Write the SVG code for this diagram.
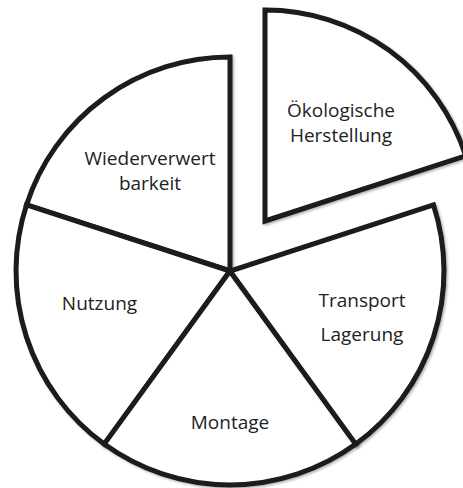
<svg xmlns="http://www.w3.org/2000/svg" width="463" height="488" viewBox="0 0 463 488">
<defs>
<filter id="sh" x="-10%" y="-10%" width="120%" height="120%">
<feDropShadow dx="1.5" dy="1.5" stdDeviation="1.2" flood-color="#000" flood-opacity="0.3"/>
</filter>
</defs>
<style>
.s{fill:#fff;stroke:#1a1a1a;stroke-width:5;stroke-linejoin:miter;filter:url(#sh)}
.t{font-family:"Open Sans","Liberation Sans",sans-serif;font-size:19px;fill:#222;text-anchor:middle}
</style>
<rect width="463" height="488" fill="#fff"/>
<g id="wiederverwertbarkeit">
<path class="s" d="M230,271 L230,57 A214,214 0 0 0 26.5,204.9 Z"/>
<text class="t" x="150" y="164.5">Wiederverwert</text>
<text class="t" x="150" y="190">barkeit</text>
</g>
<g id="nutzung">
<path class="s" d="M230,271 L26.5,204.9 A214,214 0 0 0 104.2,444.1 Z"/>
<text class="t" x="99.5" y="310">Nutzung</text>
</g>
<g id="montage">
<path class="s" d="M230,271 L104.2,444.1 A214,214 0 0 0 355.8,444.1 Z"/>
<text class="t" x="230" y="429">Montage</text>
</g>
<g id="transport">
<path class="s" d="M230,271 L355.8,444.1 A214,214 0 0 0 433.5,204.9 Z"/>
<text class="t" x="362" y="307">Transport</text>
<text class="t" x="362" y="340.5">Lagerung</text>
</g>
<g id="oekologische-herstellung">
<path class="s" d="M265,221 L465.7,155.8 A211,211 0 0 0 265,10 Z"/>
<text class="t" x="341" y="116.5">Ökologische</text>
<text class="t" x="341" y="142">Herstellung</text>
</g>
</svg>
